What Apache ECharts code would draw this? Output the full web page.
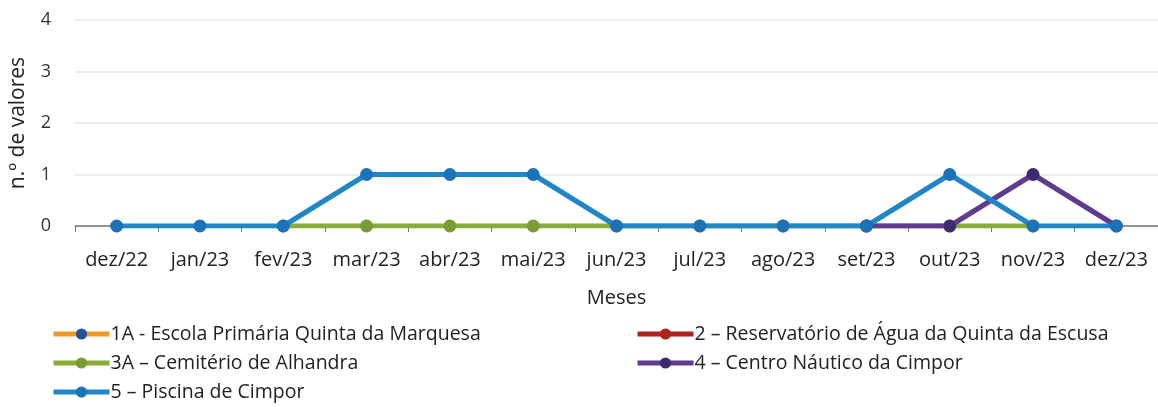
<!DOCTYPE html>
<html>
<head>
<meta charset="utf-8">
<script src="https://cdn.jsdelivr.net/npm/echarts@6/dist/echarts.min.js"></script>
<style>
  html, body { margin: 0; padding: 0; background: #fff; }
  #chart { width: 1158px; height: 407px; }
</style>
</head>
<body>
<div id="chart"></div>
<script>
// meses
const months = ["dez/22", "jan/23", "fev/23", "mar/23", "abr/23", "mai/23", "jun/23",
  "jul/23", "ago/23", "set/23", "out/23", "nov/23", "dez/23"];

// n.º de valores por ponto de amostragem (null = sem dados)
const escolaQuinta = [null, null, null, null, null, null, null, null, null, null, null, null, null];
const reservatorio = [null, null, null, null, null, null, null, null, null, null, null, null, null];
const cemiterio = [null, null, 0, 0, 0, 0, 0, 0, 0, 0, 0, 0, null];
const centroNautico = [null, null, null, null, null, null, null, null, null, 0, 0, 1, 0];
const piscina = [0, 0, 0, 1, 1, 1, 0, 0, 0, 0, 1, 0, 0];

const yTicks = [0, 1, 2, 3, 4];

const names = [
  "1A - Escola Primária Quinta da Marquesa",
  "2 – Reservatório de Água da Quinta da Escusa",
  "3A – Cemitério de Alhandra",
  "4 – Centro Náutico da Cimpor",
  "5 – Piscina de Cimpor"
];

const font = "'Open Sans', sans-serif";
const chart = echarts.init(document.getElementById("chart"));

function line(name, data, lineColor, dotColor) {
  return {
    name: name,
    type: "line",
    data: data,
    symbol: "circle",
    symbolSize: 13,
    connectNulls: false,
    lineStyle: { color: lineColor, width: 5 },
    itemStyle: { color: dotColor },
    emphasis: { disabled: true },
    z: 2
  };
}

const legendText = { fontSize: 19.5, color: "#222", fontFamily: font, padding: [0, 0, 0, -4] };

chart.setOption({
  animation: false,
  textStyle: { fontFamily: font },
  grid: { left: 75, right: -8, top: 20, bottom: 181 },
  legend: [
    {
      left: 51, top: 324, orient: "vertical", itemGap: 9, padding: 0,
      itemWidth: 56, itemHeight: 14,
      lineStyle: { width: 5 },
      textStyle: legendText,
      data: [names[0], names[2], names[4]]
    },
    {
      left: 635, top: 324, orient: "vertical", itemGap: 9, padding: 0,
      itemWidth: 56, itemHeight: 14,
      lineStyle: { width: 5 },
      textStyle: legendText,
      data: [names[1], names[3]]
    }
  ],
  xAxis: {
    type: "category",
    data: months,
    boundaryGap: true,
    name: "Meses",
    nameLocation: "middle",
    nameGap: 62,
    nameTextStyle: { fontSize: 20, color: "#222" },
    axisLine: { lineStyle: { color: "#777", width: 1.5 } },
    axisTick: { show: true, length: 6, lineStyle: { color: "#777" } },
    axisLabel: { fontSize: 20, color: "#222", margin: 24, interval: 0, hideOverlap: false }
  },
  yAxis: {
    type: "value",
    min: yTicks[0],
    max: yTicks[yTicks.length - 1],
    interval: 1,
    name: "n.º de valores",
    nameLocation: "middle",
    nameGap: 46,
    nameTextStyle: { fontSize: 21, color: "#222" },
    axisLine: { show: false },
    axisTick: { show: false },
    axisLabel: { fontSize: 18, color: "#333", margin: 24 },
    splitLine: { lineStyle: { color: "#e6e6e6", width: 1.5 } }
  },
  series: [
    line(names[0], escolaQuinta, "#f39a26", "#24509c"),
    line(names[1], reservatorio, "#b0201f", "#b0201f"),
    line(names[2], cemiterio, "#8aac3a", "#7a9c30"),
    line(names[3], centroNautico, "#5e3b8c", "#3f2a70"),
    line(names[4], piscina, "#1f86c8", "#1a72b8")
  ]
});
</script>
</body>
</html>
